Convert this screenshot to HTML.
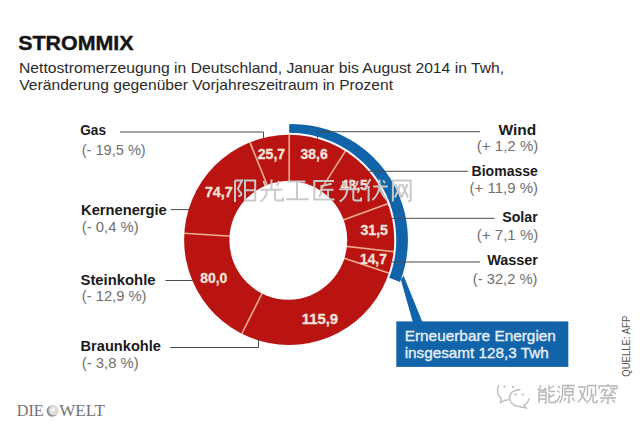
<!DOCTYPE html>
<html><head><meta charset="utf-8"><style>
html,body{margin:0;padding:0;background:#fff;overflow:hidden;}
svg{display:block;}
</style></head><body>
<svg width="640" height="427" viewBox="0 0 640 427">
<rect width="640" height="427" fill="#ffffff"/>
<circle cx="289.2" cy="239.85" r="105.1" fill="#b91412"/>
<line x1="289.2" y1="239.85" x2="289.20" y2="134.25" stroke="#f2ad95" stroke-width="1.6"/>
<line x1="289.2" y1="239.85" x2="345.63" y2="150.59" stroke="#f2ad95" stroke-width="1.6"/>
<line x1="289.2" y1="239.85" x2="388.37" y2="203.56" stroke="#f2ad95" stroke-width="1.6"/>
<line x1="289.2" y1="239.85" x2="394.12" y2="251.80" stroke="#f2ad95" stroke-width="1.6"/>
<line x1="289.2" y1="239.85" x2="389.34" y2="273.36" stroke="#f2ad95" stroke-width="1.6"/>
<line x1="289.2" y1="239.85" x2="241.59" y2="334.11" stroke="#f2ad95" stroke-width="1.6"/>
<line x1="289.2" y1="239.85" x2="183.81" y2="233.22" stroke="#f2ad95" stroke-width="1.6"/>
<line x1="289.2" y1="239.85" x2="249.81" y2="141.87" stroke="#f2ad95" stroke-width="1.6"/>
<ellipse cx="288.3" cy="240.35" rx="58.9" ry="59.4" fill="#ffffff"/>
<path d="M289.20,124.14 L292.93,124.10 L296.67,124.19 L300.40,124.39 L304.13,124.72 L307.84,125.17 L311.55,125.74 L315.23,126.43 L318.90,127.23 L322.54,128.16 L326.15,129.21 L329.73,130.37 L333.27,131.65 L336.77,133.04 L340.22,134.55 L343.63,136.18 L346.98,137.91 L350.28,139.76 L353.52,141.71 L356.70,143.77 L359.80,145.93 L362.84,148.19 L365.80,150.56 L368.69,153.02 L371.50,155.58 L374.22,158.22 L376.85,160.96 L379.40,163.79 L381.85,166.70 L384.21,169.68 L386.47,172.75 L388.62,175.89 L390.68,179.10 L392.62,182.38 L394.46,185.72 L396.19,189.12 L397.81,192.58 L399.31,196.09 L400.70,199.65 L401.96,203.25 L403.11,206.90 L404.14,210.58 L405.04,214.30 L405.83,218.04 L406.48,221.81 L407.02,225.59 L407.43,229.40 L407.71,233.21 L407.87,237.03 L407.90,240.86 L407.80,244.68 L407.58,248.50 L407.23,252.31 L406.75,256.11 L406.15,259.88 L405.43,263.64 L404.58,267.37 L403.61,271.06 L402.52,274.73 L401.31,278.35 L399.98,281.93 L389.23,277.85 L390.40,274.60 L391.47,271.32 L392.43,268.01 L393.28,264.67 L394.03,261.30 L394.66,257.92 L395.19,254.51 L395.61,251.08 L395.92,247.65 L396.11,244.21 L396.20,240.76 L396.17,237.31 L396.03,233.86 L395.78,230.43 L395.43,227.00 L394.96,223.58 L394.38,220.18 L393.69,216.80 L392.89,213.45 L391.99,210.12 L390.97,206.82 L389.86,203.56 L388.64,200.33 L387.31,197.15 L385.88,194.01 L384.36,190.92 L382.73,187.88 L381.01,184.89 L379.19,181.96 L377.28,179.09 L375.27,176.28 L373.18,173.54 L371.00,170.87 L368.73,168.27 L366.39,165.75 L363.96,163.30 L361.45,160.93 L358.87,158.64 L356.22,156.44 L353.49,154.32 L350.71,152.29 L347.85,150.36 L344.94,148.51 L341.97,146.76 L338.94,145.11 L335.86,143.56 L332.73,142.11 L329.56,140.75 L326.35,139.50 L323.09,138.36 L319.80,137.32 L316.48,136.39 L313.14,135.56 L309.76,134.84 L306.37,134.24 L302.96,133.74 L299.53,133.35 L296.09,133.07 L292.65,132.91 L289.20,132.85 Z" fill="#1164a9"/>
<polygon points="400.8,279.5 403.6,275.8 422.4,322 412.8,322" fill="#1164a9"/>
<rect x="396.3" y="321.4" width="172" height="45.5" fill="#1164a9"/>
<polyline points="120,132 263.5,132 263.5,138.5" stroke="#4a4a4a" stroke-width="1" fill="none"/>
<polyline points="170.7,209.6 189.05,209.6" stroke="#4a4a4a" stroke-width="1" fill="none"/>
<polyline points="165.4,280.5 192.78,280.5" stroke="#4a4a4a" stroke-width="1" fill="none"/>
<polyline points="170.3,347.5 258.5,347.5 258.5,339.5" stroke="#4a4a4a" stroke-width="1" fill="none"/>
<polyline points="480,131.7 317.5,131.7 317.5,138.5" stroke="#4a4a4a" stroke-width="1" fill="none"/>
<polyline points="468,171.3 368.37,171.3" stroke="#4a4a4a" stroke-width="1" fill="none"/>
<polyline points="494.5,218.3 391.57,218.3" stroke="#4a4a4a" stroke-width="1" fill="none"/>
<polyline points="480,262 391.44,262" stroke="#4a4a4a" stroke-width="1" fill="none"/>
<text x="257.75" y="159.25" textLength="27.48" lengthAdjust="spacingAndGlyphs" font-family="Liberation Sans" font-weight="700" font-size="14.5" fill="#f6e4da" stroke="#f6e4da" stroke-width="0.3">25,7</text>
<text x="300.6" y="159.25" textLength="27.13" lengthAdjust="spacingAndGlyphs" font-family="Liberation Sans" font-weight="700" font-size="14.5" fill="#f6e4da" stroke="#f6e4da" stroke-width="0.3">38,6</text>
<text x="340.8" y="189.6" textLength="27.02" lengthAdjust="spacingAndGlyphs" font-family="Liberation Sans" font-weight="700" font-size="14.5" fill="#f6e4da" stroke="#f6e4da" stroke-width="0.3">43,5</text>
<text x="360.4" y="234.7" textLength="27.63" lengthAdjust="spacingAndGlyphs" font-family="Liberation Sans" font-weight="700" font-size="14.5" fill="#f6e4da" stroke="#f6e4da" stroke-width="0.3">31,5</text>
<text x="360.05" y="263.5" textLength="26.77" lengthAdjust="spacingAndGlyphs" font-family="Liberation Sans" font-weight="700" font-size="14.5" fill="#f6e4da" stroke="#f6e4da" stroke-width="0.3">14,7</text>
<text x="204.91" y="196.5" textLength="27.82" lengthAdjust="spacingAndGlyphs" font-family="Liberation Sans" font-weight="700" font-size="14.5" fill="#f6e4da" stroke="#f6e4da" stroke-width="0.3">74,7</text>
<text x="200.2" y="283" textLength="27.13" lengthAdjust="spacingAndGlyphs" font-family="Liberation Sans" font-weight="700" font-size="14.5" fill="#f6e4da" stroke="#f6e4da" stroke-width="0.3">80,0</text>
<text x="301.78" y="323.75" textLength="36.34" lengthAdjust="spacingAndGlyphs" font-family="Liberation Sans" font-weight="700" font-size="14.5" fill="#f6e4da" stroke="#f6e4da" stroke-width="0.3">115,9</text>
<text x="80.28" y="135.3" textLength="25.78" lengthAdjust="spacingAndGlyphs" font-family="Liberation Sans" font-weight="700" font-size="14" fill="#1a1a1a">Gas</text>
<text x="81.05" y="214.7" textLength="85.69" lengthAdjust="spacingAndGlyphs" font-family="Liberation Sans" font-weight="700" font-size="14" fill="#1a1a1a">Kernenergie</text>
<text x="80.54" y="284.7" textLength="75.0" lengthAdjust="spacingAndGlyphs" font-family="Liberation Sans" font-weight="700" font-size="14" fill="#1a1a1a">Steinkohle</text>
<text x="80.56" y="350.6" textLength="80.36" lengthAdjust="spacingAndGlyphs" font-family="Liberation Sans" font-weight="700" font-size="14" fill="#1a1a1a">Braunkohle</text>
<text x="498.5" y="134.6" textLength="37.71" lengthAdjust="spacingAndGlyphs" font-family="Liberation Sans" font-weight="700" font-size="14" fill="#1a1a1a">Wind</text>
<text x="471.6" y="175.9" textLength="66.26" lengthAdjust="spacingAndGlyphs" font-family="Liberation Sans" font-weight="700" font-size="14" fill="#1a1a1a">Biomasse</text>
<text x="502.19" y="221.6" textLength="35.53" lengthAdjust="spacingAndGlyphs" font-family="Liberation Sans" font-weight="700" font-size="14" fill="#1a1a1a">Solar</text>
<text x="487.2" y="265.3" textLength="50.81" lengthAdjust="spacingAndGlyphs" font-family="Liberation Sans" font-weight="700" font-size="14" fill="#1a1a1a">Wasser</text>
<text x="81.71" y="154.6" textLength="64.03" lengthAdjust="spacingAndGlyphs" font-family="Liberation Sans" font-size="14" fill="#707070">(- 19,5 %)</text>
<text x="81.84" y="232.3" textLength="56.78" lengthAdjust="spacingAndGlyphs" font-family="Liberation Sans" font-size="14" fill="#707070">(- 0,4 %)</text>
<text x="81.85" y="301.4" textLength="64.54" lengthAdjust="spacingAndGlyphs" font-family="Liberation Sans" font-size="14" fill="#707070">(- 12,9 %)</text>
<text x="81.84" y="368" textLength="56.78" lengthAdjust="spacingAndGlyphs" font-family="Liberation Sans" font-size="14" fill="#707070">(- 3,8 %)</text>
<text x="476.83" y="150.9" textLength="61.47" lengthAdjust="spacingAndGlyphs" font-family="Liberation Sans" font-size="14" fill="#707070">(+ 1,2 %)</text>
<text x="469.53" y="192.5" textLength="68.47" lengthAdjust="spacingAndGlyphs" font-family="Liberation Sans" font-size="14" fill="#707070">(+ 11,9 %)</text>
<text x="476.83" y="239.5" textLength="61.47" lengthAdjust="spacingAndGlyphs" font-family="Liberation Sans" font-size="14" fill="#707070">(+ 7,1 %)</text>
<text x="472.85" y="283.5" textLength="64.64" lengthAdjust="spacingAndGlyphs" font-family="Liberation Sans" font-size="14" fill="#707070">(- 32,2 %)</text>
<text x="18.23" y="50.2" textLength="115.29" lengthAdjust="spacingAndGlyphs" font-family="Liberation Sans" font-weight="700" font-size="20" fill="#151515" stroke="#151515" stroke-width="0.4">STROMMIX</text>
<text x="19.06" y="73.1" textLength="484.99" lengthAdjust="spacingAndGlyphs" font-family="Liberation Sans" font-size="15" fill="#2a2a2a">Nettostromerzeugung in Deutschland, Januar bis August 2014 in Twh,</text>
<text x="19.3" y="90.1" textLength="373.76" lengthAdjust="spacingAndGlyphs" font-family="Liberation Sans" font-size="15" fill="#2a2a2a">Veränderung gegenüber Vorjahreszeitraum in Prozent</text>
<text x="404.68" y="341.1" textLength="151.25" lengthAdjust="spacingAndGlyphs" font-family="Liberation Sans" font-size="15" fill="#e6eff8" stroke="#e6eff8" stroke-width="0.35">Erneuerbare Energien</text>
<text x="404.68" y="358" textLength="144.11" lengthAdjust="spacingAndGlyphs" font-family="Liberation Sans" font-size="15" fill="#e6eff8" stroke="#e6eff8" stroke-width="0.35">insgesamt 128,3 Twh</text>
<text x="16.79" y="416.3" textLength="26.94" lengthAdjust="spacingAndGlyphs" font-family="Liberation Serif" font-size="17.7" fill="#737373">DIE</text>
<circle cx="52.3" cy="411" r="5.7" fill="#8e8e8e"/>
<circle cx="53.6" cy="410.3" r="5.1" fill="#dcdcdc"/>
<path d="M50.5,409.5 L53,407.5 L55.5,409 L54,411.5 L51.5,413 Z" fill="#f4f4f4"/>
<text x="59.2" y="416.3" textLength="45.77" lengthAdjust="spacingAndGlyphs" font-family="Liberation Serif" font-size="17.7" fill="#737373">WELT</text>
<text transform="translate(630.3,376.8) rotate(-90) scale(0.87,1)" font-family="Liberation Sans" font-size="11" fill="#555">QUELLE: AFP</text>
<path d="M235,180.5 V202 M235,180.5 H242 L237.8,189 L241.2,193.4 Q241.5,196.5 238.4,196 M245,180.5 H255.2 V200.5 H245 Z M245,190.3 H255.2 M263.5,181 L265.5,186 M271.5,179.5 V189.5 M279,181 L277,186 M260.8,189.8 H282.4 M267,190 Q266.5,198 260.5,201.5 M275,190 V198.5 Q275,200.5 277.5,200.5 H283 V197.5 M287.2,181.4 H305.4 M297,181.4 V199.2 M286.2,199.2 H308.7 M334,180.9 H314.3 V199.6 H334.5 M331.7,183.8 L321.4,186 V191 Q321,195 319,197 M321.4,189.8 H333.5 M328,190 V197 M342.5,181 L344.5,186 M350.5,179.5 V189.3 M358,181 L356,186 M339.3,189.3 H360 M347.2,190 Q346.5,198 339.7,201.5 M353.3,190 V198.5 Q353.3,200.5 356,200.5 H361 V197.5 M370.4,179 L364.3,190.3 M368.6,186 V201.5 M373.2,186.5 H387.8 M379.5,179.5 V186.5 Q378.5,195 372.3,200 M379.5,187.5 Q382,195 387,200 M383,180.5 L385,183 M392.9,201.5 V180.4 H410.7 V199.5 Q410.7,201.5 408,201.5 M395.5,184 L401.5,197.5 M400.5,184 L395,197.5 M402,184 L408,197.5 M407.5,184 L401.5,197.5" fill="none" stroke="#c9c9c9" stroke-width="2" stroke-linecap="butt" stroke-linejoin="miter"/>
<path d="M498.5,386 Q496.8,390 498,394 Q499,397 501.3,398.4 L500.4,402.4 L505.2,400.2 L508.5,399.9 M520,389.5 Q510.5,390 509.5,397.5 Q510,405.5 519,406.5 L526,408 L524,405 Q528.5,402.5 528.8,398.7" fill="none" stroke="#bdbdbd" stroke-width="1.4" stroke-linecap="round"/>
<circle cx="504.5" cy="386.7" r="1.1" fill="#b5b5b5"/>
<circle cx="513.1" cy="387.1" r="1.1" fill="#b5b5b5"/>
<circle cx="515.7" cy="394.6" r="1.1" fill="#b5b5b5"/>
<circle cx="522.8" cy="394.6" r="1.1" fill="#b5b5b5"/>
<path d="M541,385 L538.5,390 H546 M544.5,388 L546.5,390 M539,392 V403 M539,392 H546 V403 L544.5,402.5 M539,395.5 H546 M539,399 H546 M549,385 V390.5 Q549,391.5 551,391.5 H555 M554,386 L549.5,388.5 M549,393 V401.5 Q549,402.5 551,402.5 H555.5 V400 M554.5,394.5 L549.5,397 M558,386 L560,388 M557,390.5 L559.5,392.5 M557,402 L560,395.5 M562.5,385.5 H575 M562.5,385.5 V395 Q562,400 559.5,403 M568.5,386 L567.5,388 M565,388.5 H573 V395 H565 Z M565,391.7 H573 M569,395 V402.5 L567.5,401.5 M566,397.5 L564,401 M572,397.5 L574.5,401 M578,387 H585 Q584,396 578,402.5 M580,390 Q582,397 586.5,401.5 M587.5,385.5 V396 M587.5,385.5 H595.5 V396 M591.5,388.5 V394 Q591,400 586.5,403 M593,394 V401.5 Q593,402.5 595,402.5 H597 V400 M608,383.5 V386 M599,389.5 V386 H617 V389.5 M604,388 L601,393 M602.5,390 H607 L604,394.5 M610,388.5 H615 Q613,392 609.5,394.5 M611,390.5 L616,394 M603,395.5 H613 M600,398 H616 M608,398 V403.5 L606.5,402.5 M604,399.5 L601,402.5 M612,399.5 L615,402.5" fill="none" stroke="#b5b5b5" stroke-width="1.4"/>
</svg></body></html>
